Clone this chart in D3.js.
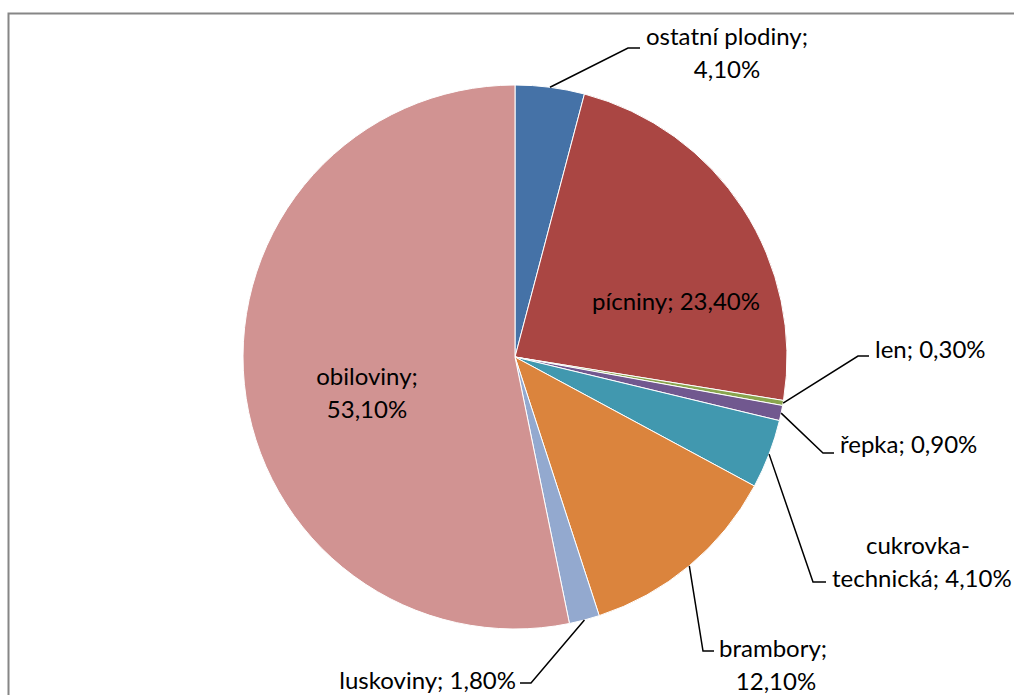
<!DOCTYPE html>
<html>
<head>
<meta charset="utf-8">
<script src="https://cdn.jsdelivr.net/npm/d3@7"></script>
<style>
  html, body { margin: 0; padding: 0; background: #fff; }
  svg { display: block; }
  text { font-family: Lato, "Open Sans", sans-serif; fill: #000; }
</style>
</head>
<body>
<svg id="chart" width="1014" height="695"></svg>
<script>
// ---- data ----
const categories = ["ostatní plodiny", "pícniny", "len", "řepka", "cukrovka-technická", "brambory", "luskoviny", "obiloviny"];
const values = [4.1, 23.4, 0.3, 0.9, 4.1, 12.1, 1.8, 53.1];
const valueLabels = ["4,10%", "23,40%", "0,30%", "0,90%", "4,10%", "12,10%", "1,80%", "53,10%"];
const labelLines = [
  ["ostatní plodiny;", "4,10%"],
  ["pícniny; 23,40%"],
  ["len; 0,30%"],
  ["řepka; 0,90%"],
  ["cukrovka-", "technická; 4,10%"],
  ["brambory;", "12,10%"],
  ["luskoviny; 1,80%"],
  ["obiloviny;", "53,10%"]
];
const colors = ["#4572A7", "#AA4643", "#89A54E", "#71588F", "#4198AF", "#DB843D", "#93A9CF", "#D19392"];

// ---- layout ----
const cx = 515, cy = 357, R = 272;
const fontSize = 24, lineGap = 33;
const labelLayout = [
  { type: "out", elbow: [628, 48], end: [640, 48], tx: 727, ty: 37, anchor: "middle" },
  { type: "in", tx: 676, ty: 302 },
  { type: "out", elbow: [858, 356], end: [869, 356], tx: 875, ty: 350, anchor: "start" },
  { type: "out", elbow: [823, 453], end: [834, 453], tx: 840, ty: 445, anchor: "start" },
  { type: "out", elbow: [813, 582], end: [826, 582], tx: 918, ty: 546, anchor: "middle", align: [null, 832] },
  { type: "out", elbow: [703, 651], end: [714, 651], tx: 719, ty: 649, anchor: "start", align: [null, 776] },
  { type: "out", elbow: [531, 683], end: [520, 683], tx: 516, ty: 681, anchor: "end" },
  { type: "in", tx: 367, ty: 377 }
];

const svg = d3.select("#chart");

svg.append("rect")
  .attr("x", 8.5).attr("y", 13.5)
  .attr("width", 1100).attr("height", 800)
  .attr("fill", "none")
  .attr("stroke", "#868686")
  .attr("stroke-width", 2);

const pie = d3.pie().sort(null).value(d => d)
  .startAngle(0).endAngle(2 * Math.PI);
const arcs = pie(values);
const arc = d3.arc().innerRadius(0).outerRadius(R);

const g = svg.append("g").attr("transform", `translate(${cx},${cy})`);
g.selectAll("path.slice").data(arcs).join("path")
  .attr("class", "slice")
  .attr("d", arc)
  .attr("fill", (d, i) => colors[i])
  .attr("stroke", "#fff")
  .attr("stroke-width", 1);

arcs.forEach((a, i) => {
  const L = labelLayout[i];
  if (L.type !== "out") return;
  const mid = (a.startAngle + a.endAngle) / 2;
  const sx = cx + R * Math.sin(mid), sy = cy - R * Math.cos(mid);
  svg.append("polyline")
    .attr("points", [[sx, sy], L.elbow, L.end].map(p => p.join(",")).join(" "))
    .attr("fill", "none")
    .attr("stroke", "#000")
    .attr("stroke-width", 1.5);
});

labelLines.forEach((lines, i) => {
  const L = labelLayout[i];
  lines.forEach((t, j) => {
    let x = L.tx, anchor = L.type === "in" ? "middle" : L.anchor;
    if (L.align && L.align[j] != null) {
      x = L.align[j];
      anchor = (i === 4) ? "start" : "middle";
    }
    svg.append("text")
      .attr("x", x)
      .attr("y", L.ty + j * lineGap)
      .attr("dy", "0.35em")
      .attr("text-anchor", anchor)
      .attr("font-size", fontSize)
      .text(t);
  });
});
</script>
</body>
</html>
